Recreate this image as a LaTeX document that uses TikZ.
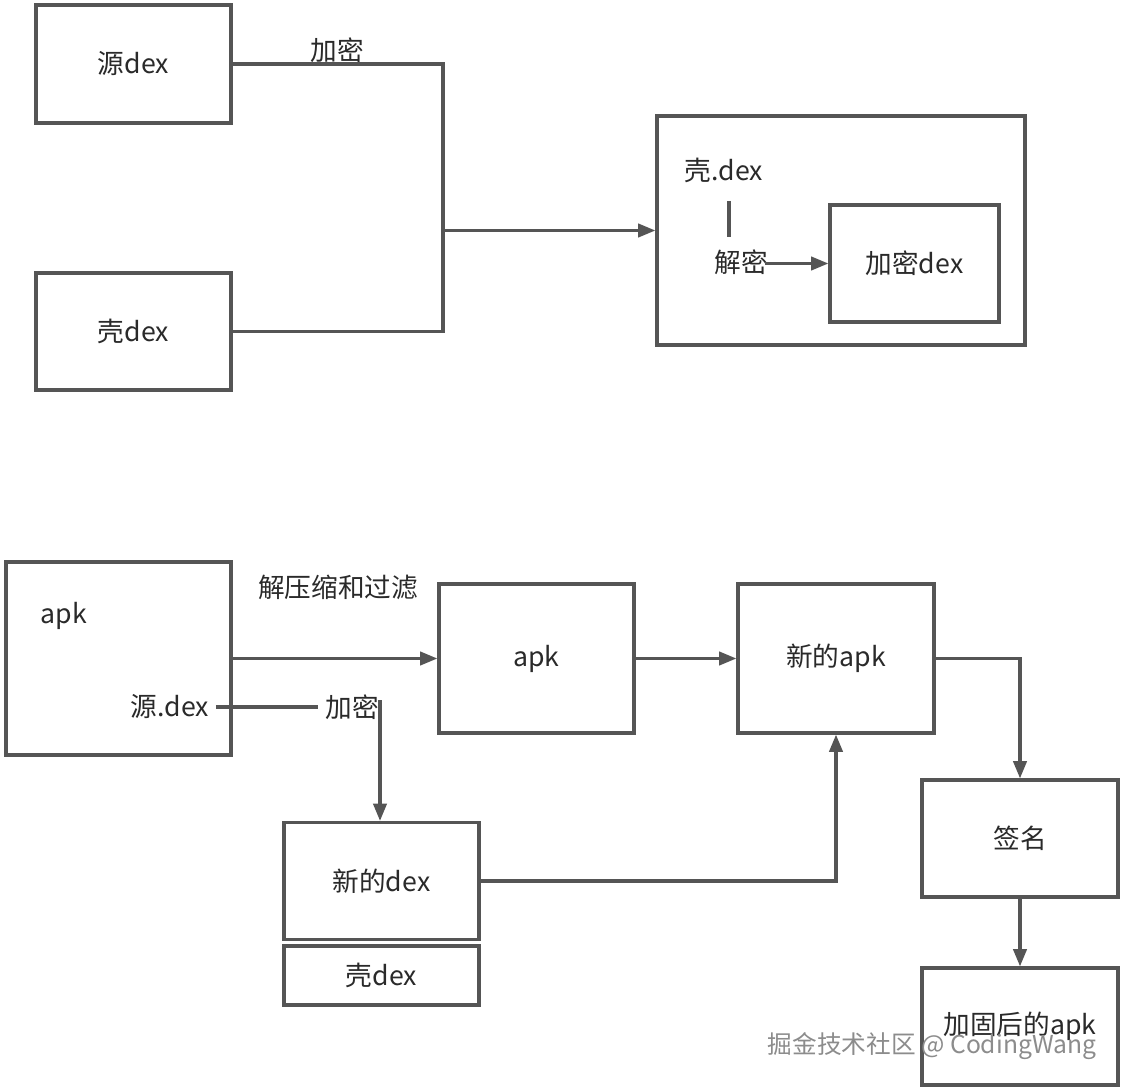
\documentclass[tikz,border=0pt]{standalone}
\usepackage{fontspec}
\setmainfont{Noto Sans CJK SC}
\usetikzlibrary{arrows.meta}
\definecolor{ln}{HTML}{555555}
\definecolor{tx}{HTML}{2A2A2A}
\begin{document}
\begin{tikzpicture}[x=0.75pt,y=-0.75pt,
  box/.style={draw=ln,line width=2.4pt,fill=white,text=tx,font=\fontsize{20}{22}\selectfont,inner sep=0pt},
  lbl/.style={text=tx,font=\fontsize{20}{22}\selectfont,inner sep=5pt},
  conn/.style={draw=ln,line width=2.4pt},
  arr/.style={conn,-{Triangle[length=13pt,width=10pt]}}]
\useasboundingbox[fill=white] (0,0) rectangle (1128,1091);
% top part
\node[box,minimum width=146.25pt,minimum height=88.5pt] (src) at (133.5,64) {源dex};
\node[box,minimum width=146.25pt,minimum height=87.75pt] (shell) at (133.5,331.5) {壳dex};
\node[box,minimum width=276pt,minimum height=171.75pt] (big) at (841,230.5) {};
\node[box,minimum width=126.75pt,minimum height=87.75pt] (enc) at (914.5,263.5) {加密dex};
\node[lbl] (encl) at (337,50) {加密};
\node[lbl] (kd) at (724,170) {壳.dex};
\node[lbl] (dec) at (741,262) {解密};
\coordinate (j) at (443,230.5);
\draw[conn] (src.east) -| (j) |- (shell.east);
\draw[arr] (j) -- (big.west);
\coordinate (d1) at (729,201);
\coordinate (d2) at (729,237);
\draw[conn] (d1) -- (d2);
\coordinate (d3) at (765,263.5);
\draw[arr] (d3) -- (enc.west);
% bottom part
\node[box,minimum width=168.75pt,minimum height=144.75pt] (apk1) at (118.5,658.5) {};
\node[lbl] (apkt) at (64,616) {apk};
\node[lbl] (srcd) at (170,707) {源.dex};
\node[box,minimum width=146.25pt,minimum height=111.75pt] (apk2) at (536.5,658.5) {apk};
\node[box,minimum width=147pt,minimum height=111.75pt] (napk) at (836,658.5) {新的apk};
\node[box,minimum width=147pt,minimum height=87.75pt] (sign) at (1020,838.5) {签名};
\node[box,minimum width=147pt,minimum height=87.75pt] (final) at (1020,1026.5) {加固后的apk};
\node[box,minimum width=146.25pt,minimum height=87.75pt] (ndex) at (381.5,881) {新的dex};
\node[box,minimum width=146.25pt,minimum height=44.25pt] (sdex) at (381.5,975.5) {壳dex};
\node[lbl] (unz) at (338,587) {解压缩和过滤};
\node[lbl] (enc2) at (352,707) {加密};
\draw[arr] (apk1.east) -- (apk2.west);
\draw[arr] (apk2.east) -- (napk.west);
\draw[arr] (napk.east) -| (sign.north);
\draw[arr] (sign.south) -- (final.north);
\draw[conn] (srcd.east) -- (enc2.west);
\coordinate (e1) at (380,700);
\draw[arr] (e1) -- (e1 |- ndex.north);
\draw[arr] (ndex.east) -| (napk.south);
% watermark
\node[text=black!45,font=\fontsize{18.5}{20}\selectfont,inner sep=0pt] (wm) at (932,1046) {掘金技术社区 @ CodingWang};
\end{tikzpicture}
\end{document}
